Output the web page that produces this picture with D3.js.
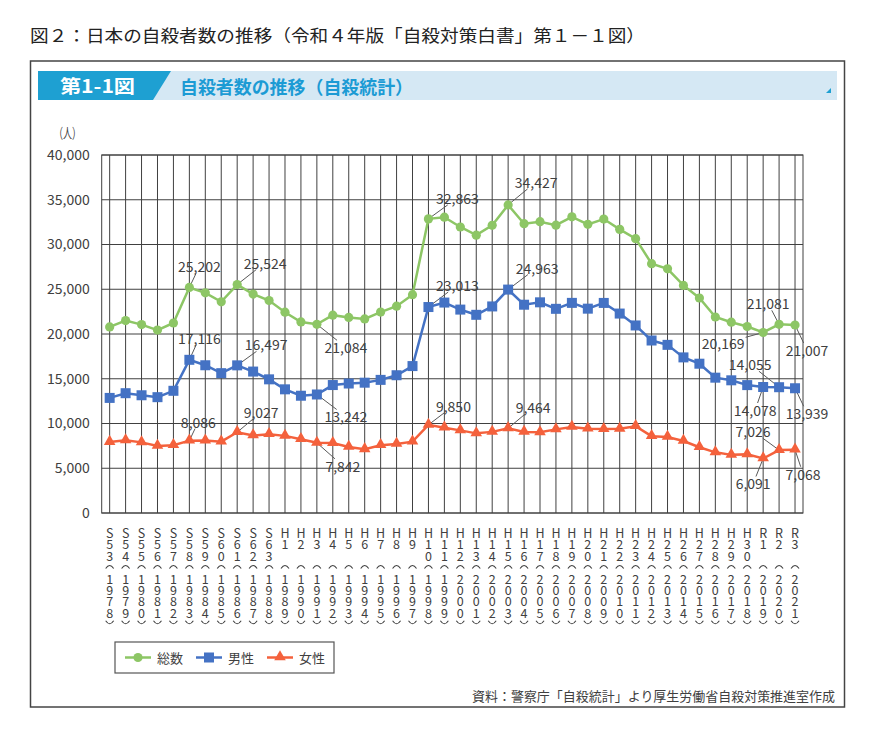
<!DOCTYPE html>
<html>
<head>
<meta charset="utf-8">
<title>自殺者数の推移</title>
<script src="https://d3js.org/d3.v7.min.js"></script>
<style>
body { margin: 0; background: #fff; }
svg text { font-family: "Noto Sans CJK JP", "Noto Sans", sans-serif; fill: #404040; }
</style>
</head>
<body>
<script>
// 元号（横軸の上段）と西暦（下段）
var eraLabels = ["S53","S54","S55","S56","S57","S58","S59","S60","S61","S62","S63",
    "H1","H2","H3","H4","H5","H6","H7","H8","H9","H10","H11","H12","H13","H14","H15",
    "H16","H17","H18","H19","H20","H21","H22","H23","H24","H25","H26","H27","H28","H29","H30",
    "R1","R2","R3"];
var years = ["1978","1979","1980","1981","1982","1983","1984","1985","1986","1987","1988",
    "1989","1990","1991","1992","1993","1994","1995","1996","1997","1998","1999","2000",
    "2001","2002","2003","2004","2005","2006","2007","2008","2009","2010","2011","2012",
    "2013","2014","2015","2016","2017","2018","2019","2020","2021"];

// 総数・男性・女性
var total = [20788,21503,21048,20434,21228,25202,24596,23599,25524,24460,23742,
    22436,21346,21084,22104,21851,21679,22445,23104,24391,32863,33048,31957,31042,
    32143,34427,32325,32552,32155,33093,32249,32845,31690,30651,27858,27283,25427,
    24025,21897,21321,20840,20169,21081,21007];
var male = [12859,13386,13155,12942,13654,17116,16508,15624,16497,15802,14934,
    13818,13102,13242,14296,14468,14560,14874,15393,16416,23013,23512,22727,22144,
    23080,24963,23272,23540,22813,23478,22831,23472,22283,20955,19273,18787,17386,
    16681,15121,14826,14290,14078,14055,13939];
var female = [7929,8117,7893,7492,7574,8086,8088,7975,9027,8658,8808,
    8618,8244,7842,7808,7383,7119,7571,7711,7975,9850,9536,9230,8898,
    9063,9464,9053,9012,9342,9615,9418,9373,9407,9696,8585,8496,8041,
    7344,6776,6495,6550,6091,7026,7068];

var yTicks = [0,5000,10000,15000,20000,25000,30000,35000,40000];
var seriesNames = ["総数","男性","女性"];

// 値ラベルを付ける年（インデックス）
var labelIdx = [5, 8, 13, 20, 25, 41, 42, 43];
// ラベルの中心位置のずれ（点からのdx, dy）
var offTotal  = [[10,-21],[28,-22],[29,23],[29,-21],[28,-23],[-40,11],[-11,-21],[12,25]];
var offMale   = [[10,-22],[29,-21],[29,22],[29,-22],[29,-22],[-8,23],[-29,-23],[12,25]];
var offFemale = [[9,-19],[24,-20],[26,23],[25,-19],[25,-21],[-10,25],[-26,-19],[8,24]];

var green = "#8dc665", blue = "#4472c4", red = "#f4613c";

var svg = d3.select("body").append("svg")
    .attr("width", 869)
    .attr("height", 731);

// 上のタイトル
svg.append("text")
    .attr("x", 30).attr("y", 42)
    .attr("font-size", 17)
    .attr("textLength", 615).attr("lengthAdjust", "spacingAndGlyphs")
    .style("fill", "#222")
    .text("図２：日本の自殺者数の推移（令和４年版「自殺対策白書」第１－１図）");

// 枠
svg.append("rect")
    .attr("x", 30.5).attr("y", 61)
    .attr("width", 814).attr("height", 646)
    .attr("fill", "none").attr("stroke", "#444").attr("stroke-width", 1.5);

// 見出し帯
svg.append("rect").attr("x", 38).attr("y", 71).attr("width", 799).attr("height", 29).attr("fill", "#d5e8f4");
svg.append("path").attr("d", "M38,71 L171,71 L153,100 L38,100 Z").attr("fill", "#1ea0d2");
svg.append("path").attr("d", "M831,88 L831,93 L826,93 Z").attr("fill", "#1ea0d2");
svg.append("text")
    .attr("x", 60).attr("y", 93)
    .attr("font-size", 18).attr("font-weight", "bold")
    .attr("textLength", 75).attr("lengthAdjust", "spacingAndGlyphs")
    .style("fill", "#fff")
    .text("第1-1図");
svg.append("text")
    .attr("x", 180).attr("y", 94)
    .attr("font-size", 18).attr("font-weight", "bold")
    .attr("textLength", 233).attr("lengthAdjust", "spacingAndGlyphs")
    .style("fill", "#1c9bd4")
    .text("自殺者数の推移（自殺統計）");

// 単位
svg.append("text")
    .attr("x", 54).attr("y", 138)
    .attr("font-size", 14)
    .attr("textLength", 27).attr("lengthAdjust", "spacingAndGlyphs")
    .text("（人）");

var x = d3.scalePoint()
    .domain(d3.range(eraLabels.length))
    .range([101.7, 803])
    .padding(0.5);
var y = d3.scaleLinear()
    .domain([0, 40000])
    .range([513, 155]);

// グリッド
var grid = svg.append("g").attr("stroke", "#404040").attr("stroke-width", 1);
grid.selectAll("line.h")
    .data(yTicks)
    .enter()
    .append("line")
    .attr("x1", 101.7).attr("x2", 803)
    .attr("y1", function(d) { return y(d); })
    .attr("y2", function(d) { return y(d); });
grid.selectAll("line.v")
    .data(d3.range(eraLabels.length))
    .enter()
    .append("line")
    .attr("x1", function(d) { return x(d); })
    .attr("x2", function(d) { return x(d); })
    .attr("y1", y(0)).attr("y2", y(40000));
grid.append("rect")
    .attr("x", 101.7).attr("y", y(40000))
    .attr("width", 803 - 101.7).attr("height", y(0) - y(40000))
    .attr("fill", "none");

// 縦軸
var yAxis = svg.append("g")
    .attr("transform", "translate(101.7,0)")
    .call(d3.axisLeft(y).tickValues(yTicks).tickFormat(d3.format(",")).tickSize(0).tickPadding(12));
yAxis.select(".domain").remove();
yAxis.selectAll("text")
    .attr("font-size", 14)
    .attr("font-family", null)
    .style("fill", "#404040");

// 横軸（縦書き）：1列を1つのtextにまとめ、括弧は弧で描く
var rowStep = 11.45, row0 = 531.7;
var xl = svg.selectAll("g.xl")
    .data(d3.range(eraLabels.length))
    .enter()
    .append("g")
    .attr("transform", function(i) { return "translate(" + x(i) + ",0)"; });
xl.each(function(i) {
    var g = d3.select(this);
    var era = eraLabels[i];
    var rows = [era[0], era[1], era[2] || "", "("].concat(years[i].split("")).concat([")"]);
    var t = g.append("text")
        .attr("font-size", 12.5)
        .attr("text-anchor", "middle")
        .attr("dominant-baseline", "central");
    rows.forEach(function(ch, r) {
        var cy = row0 + r * rowStep;
        if (ch === "(") {
            g.append("path")
                .attr("d", "M-4," + (cy + 2.5) + " Q0," + (cy - 3.5) + " 4," + (cy + 2.5))
                .attr("fill", "none").attr("stroke", "#404040").attr("stroke-width", 1.1);
        } else if (ch === ")") {
            g.append("path")
                .attr("d", "M-4," + (cy - 2.5) + " Q0," + (cy + 3.5) + " 4," + (cy - 2.5))
                .attr("fill", "none").attr("stroke", "#404040").attr("stroke-width", 1.1);
        } else if (ch !== "") {
            t.append("tspan").attr("x", 0).attr("y", cy).text(ch);
        }
    });
});

// 系列
var series = [
    {name: seriesNames[0], values: total, color: green, shape: "circle", offs: offTotal},
    {name: seriesNames[1], values: male, color: blue, shape: "square", offs: offMale},
    {name: seriesNames[2], values: female, color: red, shape: "triangle", offs: offFemale}
];

function drawMarker(g, shape, color, cx, cy) {
    if (shape === "circle") {
        g.append("circle").attr("cx", cx).attr("cy", cy).attr("r", 4.6).attr("fill", color);
    } else if (shape === "square") {
        g.append("rect").attr("x", cx - 5).attr("y", cy - 5).attr("width", 10).attr("height", 10).attr("fill", color);
    } else {
        g.append("path")
            .attr("d", d3.symbol(d3.symbolTriangle, 58)())
            .attr("transform", "translate(" + cx + "," + (cy - 0.5) + ")")
            .attr("fill", color);
    }
}

var leaderLayer = svg.append("g");
var lineLayer = svg.append("g");
var labelLayer = svg.append("g");

var line = d3.line()
    .x(function(d, i) { return x(i); })
    .y(function(d) { return y(d); });

series.forEach(function(s) {
    lineLayer.append("path")
        .datum(s.values)
        .attr("d", line)
        .attr("fill", "none")
        .attr("stroke", s.color)
        .attr("stroke-width", 2.5);
    s.values.forEach(function(v, i) {
        drawMarker(lineLayer, s.shape, s.color, x(i), y(v));
    });

    labelIdx.forEach(function(i, k) {
        var px = x(i), py = y(s.values[i]);
        var cx = px + s.offs[k][0], cy = py + s.offs[k][1];
        var t = labelLayer.append("text")
            .attr("x", cx).attr("y", cy)
            .attr("font-size", 14)
            .attr("text-anchor", "middle")
            .attr("dominant-baseline", "central")
            .text(d3.format(",")(s.values[i]));
        var hw = t.node().getBBox().width / 2 + 1, hh = 7;
        var dx = cx - px, dy = cy - py;
        var f = Math.min(hw / Math.abs(dx || 1e-6), hh / Math.abs(dy || 1e-6));
        var tEnd = 1 - f;
        if (tEnd > 0) {
            leaderLayer.append("line")
                .attr("x1", px).attr("y1", py)
                .attr("x2", px + dx * tEnd).attr("y2", py + dy * tEnd)
                .attr("stroke", "#595959").attr("stroke-width", 1);
        }
    });
});

// 凡例
var legend = svg.append("g");
legend.append("rect")
    .attr("x", 115).attr("y", 642)
    .attr("width", 219).attr("height", 31)
    .attr("fill", "#fff").attr("stroke", "#555").attr("stroke-width", 1.2);
var legX = [125, 196, 267];
series.forEach(function(s, k) {
    var lx = legX[k], ly = 657.5;
    legend.append("line")
        .attr("x1", lx).attr("x2", lx + 26)
        .attr("y1", ly).attr("y2", ly)
        .attr("stroke", s.color).attr("stroke-width", 2.5);
    drawMarker(legend, s.shape, s.color, lx + 13, ly);
    legend.append("text")
        .attr("x", lx + 32).attr("y", ly)
        .attr("font-size", 13)
        .attr("dominant-baseline", "central")
        .text(s.name);
});

// 出典
svg.append("text")
    .attr("x", 472).attr("y", 695)
    .attr("font-size", 13)
    .attr("dominant-baseline", "central")
    .attr("textLength", 363).attr("lengthAdjust", "spacingAndGlyphs")
    .text("資料：警察庁「自殺統計」より厚生労働省自殺対策推進室作成");
</script>
</body>
</html>
